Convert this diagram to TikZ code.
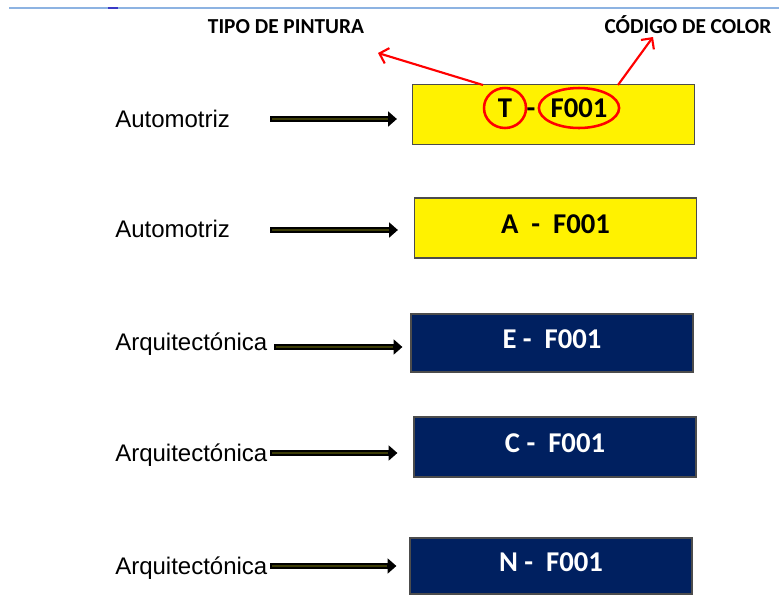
\documentclass[tikz,border=0pt]{standalone}
\usepackage{fontspec}
\setmainfont{Liberation Sans}
\newfontfamily\calibri{Carlito}
\usetikzlibrary{arrows.meta,shapes.geometric}

\definecolor{navy}{HTML}{002060}
\definecolor{rulebl}{HTML}{8DB3E2}
\definecolor{shaft}{HTML}{3C3C06}

\tikzset{
  lbl/.style={anchor=base west, inner sep=0pt, font=\fontsize{18}{20}\selectfont},
  head/.style={anchor=base, inner sep=0pt, font=\calibri\bfseries\fontsize{16}{18}\selectfont},
  codefont/.style={font=\calibri\bfseries\fontsize{21.5}{24}\selectfont},
  codebox/.style={draw=black!70, line width=0.9pt, minimum width=211.5pt, minimum height=45pt,
    inner sep=0pt, text depth=6pt, codefont},
  ybox/.style={codebox, fill=yellow, text=black},
  nbox/.style={codebox, fill=navy, text=white},
  ring/.style={ellipse, draw=red, line width=1.9pt, inner sep=0pt, codefont},
  fat/.style 2 args={draw=black, line width=5pt, shorten >=#1, -{Triangle[length=6.5pt,width=11pt]},
    postaction={draw=shaft, line width=1pt, arrows=-, shorten >=#2, shorten <=1.5pt}},
  redarr/.style={draw=red, line width=1.6pt, -{Straight Barb[length=6pt,width=12pt]}}
}

\begin{document}
\begin{tikzpicture}[x=0.75pt,y=-0.75pt]
\useasboundingbox (0,0) rectangle (779,594);

% top rule
\draw[rulebl, line width=1.2pt] (9,8) -- (779,8);
\draw[blue!55!gray, line width=1.2pt] (108,8) -- (118,8);

% headings
\node[head] (tipo) at (286,33) {TIPO DE PINTURA};
\node[head] (codigo) at (688,33) {CÓDIGO DE COLOR};

% boxes
\node[ybox] (box1) at (553.5,114.5) {};
\node[ybox] (box2) at (555.5,228) {A \ - \ F001};
\node[nbox, minimum height=43.5pt] (box3) at (552,343) {E - \ F001};
\node[nbox] (box4) at (555,447) {C - \ F001};
\node[nbox, minimum height=42pt] (box5) at (551,566) {N - \ F001};

% code of the first box
\node[ring, minimum width=31.5pt, minimum height=30pt] (tT) at (505,108) {T};
\node[codefont, anchor=base, inner sep=0pt] (dash) at (531,117) {-};
\node[ring, minimum width=60pt, minimum height=30pt] (tF) at (579,108) {F001};

% red pointers
\coordinate (tipoTail) at (483,85);
\coordinate (tipoTip) at (378,53);
\coordinate (codTail) at (618,85);
\coordinate (codTip) at (653,37);
\draw[redarr] (tipoTail) -- (tipoTip);
\draw[redarr] (codTail) -- (codTip);

% labels
\node[lbl] (l1) at (115,127) {Automotriz};
\node[lbl] (l2) at (115,237) {Automotriz};
\node[lbl] (l3) at (115,350) {Arquitectónica};
\node[lbl] (l4) at (115,461) {Arquitectónica};
\node[lbl] (l5) at (115,574) {Arquitectónica};

% black arrows
\foreach \i/\xa/\ya/\gap/\ingap in {1/270/119/11.25pt/18pt, 2/270/230/12pt/18.75pt,
    3/274/347/6pt/12.75pt, 4/270/453/12pt/18.75pt, 5/270/566/9.75pt/16.5pt}
  {\coordinate (t\i) at (\xa,\ya);
   \draw[fat={\gap}{\ingap}] (t\i) -- (t\i -| box\i.west);}

\end{tikzpicture}
\end{document}
